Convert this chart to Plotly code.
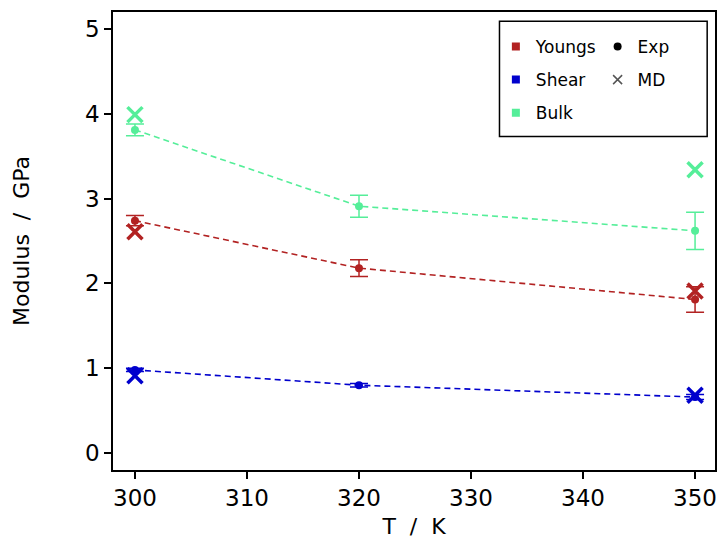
import plotly.graph_objects as go

# ---- data ----
temps_exp = [300, 320, 350]
temps_md = [300, 350]

youngs_exp = [2.74, 2.18, 1.81]
youngs_err = [0.06, 0.10, 0.15]
youngs_md = [2.61, 1.91]

shear_exp = [0.98, 0.80, 0.66]
shear_err = [0.02, 0.02, 0.03]
shear_md = [0.91, 0.68]

bulk_exp = [3.81, 2.91, 2.62]
bulk_err = [0.07, 0.13, 0.22]
bulk_md = [3.99, 3.34]

series_names = ["Youngs", "Shear", "Bulk"]
colors = ["#B22222", "#0000CD", "#55EE99"]

x_ticks = [300, 310, 320, 330, 340, 350]
y_ticks = [0, 1, 2, 3, 4, 5]

fig = go.Figure()

exp_vals = [youngs_exp, shear_exp, bulk_exp]
err_vals = [youngs_err, shear_err, bulk_err]
md_vals = [youngs_md, shear_md, bulk_md]

for name, c, ye, er, ym in zip(series_names, colors, exp_vals, err_vals, md_vals):
    fig.add_trace(go.Scatter(
        x=temps_exp, y=ye, mode="lines+markers",
        line=dict(color=c, width=1.6, dash="6px,4px"),
        marker=dict(color=c, size=8, symbol="circle"),
        error_y=dict(type="data", array=er, visible=True, color=c, thickness=1.5, width=9),
        showlegend=False, hoverinfo="x+y"))
    fig.add_trace(go.Scatter(
        x=temps_md, y=ym, mode="markers",
        marker=dict(color=c, size=15, symbol="x-thin", line=dict(color=c, width=3.5)),
        showlegend=False))

# legend entries (dummy traces)
for i, (name, c) in enumerate(zip(series_names, colors)):
    fig.add_trace(go.Scatter(
        x=[None], y=[None], mode="markers", name=name,
        marker=dict(color=c, size=8, symbol="square"),
        legend="legend", legendgroup="g%d" % i))
fig.add_trace(go.Scatter(
    x=[None], y=[None], mode="markers", name="Exp",
    marker=dict(color="black", size=8, symbol="circle"),
    legend="legend2", legendgroup="e1"))
fig.add_trace(go.Scatter(
    x=[None], y=[None], mode="markers", name="MD",
    marker=dict(color="#555555", size=9, symbol="x-thin", line=dict(color="#555555", width=1.5)),
    legend="legend2", legendgroup="e2"))

font = "DejaVu Sans, sans-serif"
axis_common = dict(
    showline=True, linecolor="black", linewidth=1.5, mirror=True,
    ticks="outside", ticklen=7, tickwidth=1.5, tickcolor="black",
    showgrid=False, zeroline=False,
    tickfont=dict(family=font, size=23, color="black"),
)

fig.update_layout(
    width=719, height=539,
    margin=dict(l=113, r=2, t=12, b=68),
    paper_bgcolor="white", plot_bgcolor="white",
    font=dict(family=font, color="black"),
    xaxis=dict(range=[298.04, 351.78], tickvals=x_ticks,
               title=dict(text="T\u00a0\u00a0/\u00a0\u00a0K", font=dict(family=font, size=22), standoff=10),
               **axis_common),
    yaxis=dict(range=[-0.2, 5.2], tickvals=y_ticks,
               title=dict(text="Modulus\u00a0\u00a0/\u00a0\u00a0GPa", font=dict(family=font, size=22), standoff=49),
               **axis_common),
    legend=dict(x=0.636, y=0.963, xanchor="left", yanchor="top",
                bgcolor="rgba(0,0,0,0)", font=dict(family=font, size=17),
                traceorder="grouped", tracegroupgap=8, itemwidth=30),
    legend2=dict(x=0.805, y=0.963, xanchor="left", yanchor="top",
                 bgcolor="rgba(0,0,0,0)", font=dict(family=font, size=17),
                 traceorder="grouped", tracegroupgap=8, itemwidth=30),
    shapes=[dict(type="rect", xref="paper", yref="paper",
                 x0=0.642, x1=0.987, y0=0.728, y1=0.980,
                 line=dict(color="black", width=1.5), fillcolor="rgba(0,0,0,0)")],
)

fig.write_html("out.html", config={"displayModeBar": False})

# remove default body margin so the figure starts at the window's corner
with open("out.html", "r", encoding="utf-8") as f:
    html = f.read()
html = html.replace("<head>", "<head><style>html,body{margin:0;padding:0;overflow:hidden;}</style>", 1)
with open("out.html", "w", encoding="utf-8") as f:
    f.write(html)
